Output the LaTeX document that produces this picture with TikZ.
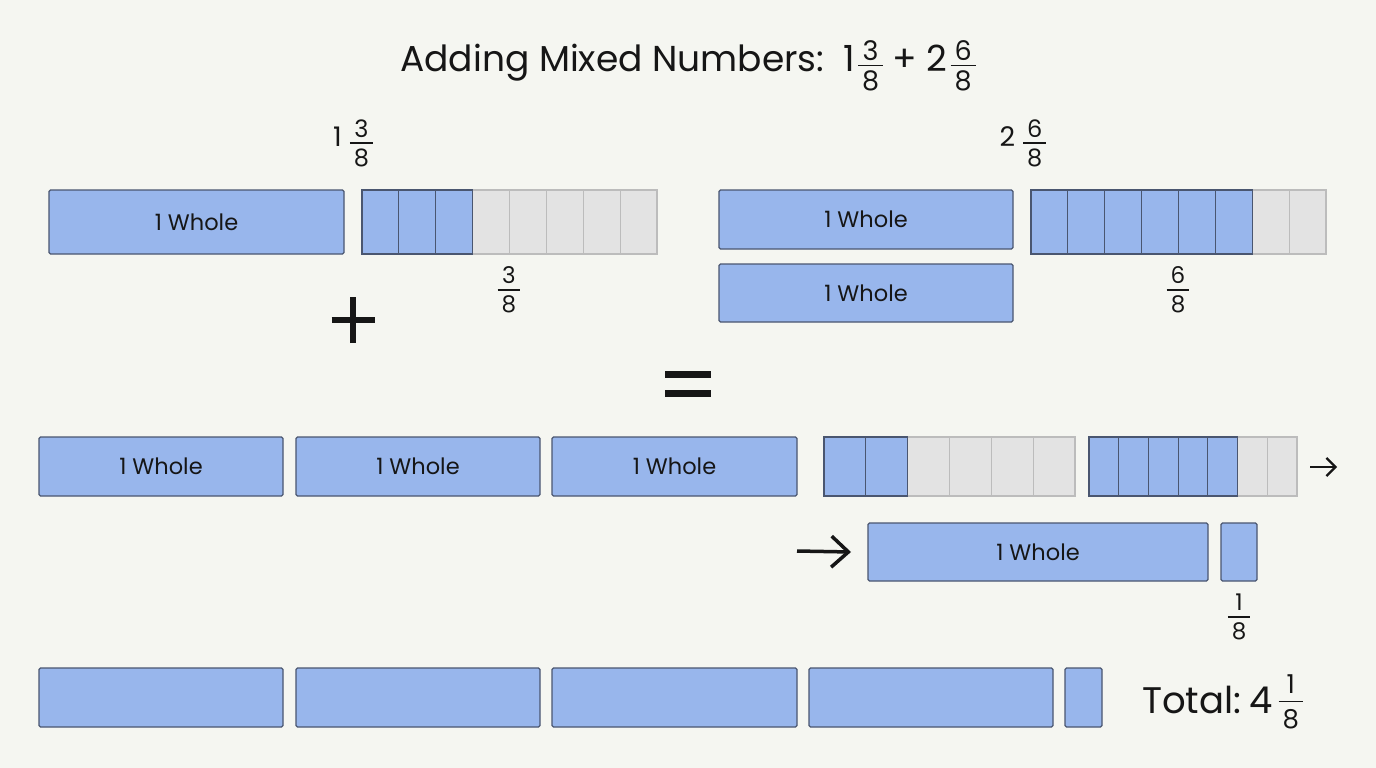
\documentclass[tikz,border=0pt]{standalone}
\usepackage{fontspec}
\setmainfont{Poppins}
\usetikzlibrary{arrows.meta}
\definecolor{bg}{HTML}{F5F6F1}
\definecolor{blu}{HTML}{98B6EC}
\definecolor{bline}{HTML}{4A5670}
\definecolor{gry}{HTML}{E3E3E3}
\definecolor{gline}{HTML}{BCBCBC}
\definecolor{ink}{HTML}{161616}
% num, den, font size, gap, raise
\newcommand\fr[5]{\raisebox{#5}{$\vcenter{\hbox{\fontsize{#3}{#3}\selectfont
  \setbox0\hbox{#1}\setbox2\hbox{#2}%
  \dimen0=\ifdim\wd0>\wd2 \wd0\else\wd2\fi
  \advance\dimen0 by 8pt
  \vbox{\hbox to\dimen0{\hss\box0\hss}\kern#4\hrule height1.7pt\kern#4\hbox to\dimen0{\hss\box2\hss}}}}$}}
\tikzset{
  wholebox/.style={draw=bline, fill=blu, line width=1.3pt, rounded corners=1.5pt,
    inner sep=0pt, outer sep=0pt, anchor=north west, text=ink,
    font=\fontsize{22.5}{22.5}\selectfont},
  bcell/.style={draw=bline, fill=blu, line width=1.2pt, inner sep=0pt, outer sep=0pt, anchor=north west},
  gcell/.style={draw=gline, fill=gry, line width=1.2pt, inner sep=0pt, outer sep=0pt, anchor=north west},
  lbl/.style={text=ink, inner sep=0pt},
  sym/.style={line width=6.5pt, draw=ink},
  arr/.style={draw=ink},
}
% name, x, y, width, height, n, k
\newcommand\fracbar[7]{%
  \pgfmathsetmacro\cw{#4/#6}%
  \pgfmathtruncatemacro\kk{#7+1}%
  \foreach \i in {\kk,...,#6}{%
    \node[gcell, minimum width=\cw pt, minimum height=#5pt] (#1-\i) at ({#2+(\i-1)*\cw}, #3) {};
  }%
  \foreach \i in {1,...,#7}{%
    \node[bcell, minimum width=\cw pt, minimum height=#5pt] (#1-\i) at ({#2+(\i-1)*\cw}, #3) {};
  }%
}
\begin{document}
\begin{tikzpicture}[x=1pt,y=-1pt]
\fill[bg] (0,0) rectangle (1376,768);
\useasboundingbox (0,0) rectangle (1376,768);

% title
\node[lbl, anchor=base, font=\fontsize{36}{36}\selectfont] (title) at (688,71)
  {Adding Mixed Numbers:\ \ 1\kern3pt\fr{3}{8}{27}{4.5pt}{-1pt}\ +\ 2\kern3pt\fr{6}{8}{27}{4.5pt}{-1pt}};

% top-left: 1 3/8
\node[lbl, anchor=base, font=\fontsize{27}{27}\selectfont] (labA) at (353,146) {1\kern8pt\fr{3}{8}{24}{5pt}{-3.5pt}};
\node[wholebox, minimum width=295pt, minimum height=64pt] (a1) at (49,190) {1 Whole};
\fracbar{fa}{362}{190}{295}{64}{8}{3}
\node[lbl] (fla) at (509,290) {\fr{3}{8}{23}{5pt}{0pt}};

% top-right: 2 6/8
\node[lbl, anchor=base, font=\fontsize{27}{27}\selectfont] (labB) at (1023,146) {2\kern8pt\fr{6}{8}{24}{5pt}{-3.5pt}};
\node[wholebox, minimum width=294pt, minimum height=59pt] (b1) at (719,190) {1 Whole};
\node[wholebox, minimum width=294pt, minimum height=58pt] (b2) at (719,264) {1 Whole};
\fracbar{fb}{1031}{190}{295}{64}{8}{6}
\node[lbl] (flb) at (1178,290) {\fr{6}{8}{23}{5pt}{0pt}};

% plus and equals
\coordinate (pc) at (353,320);
\draw[sym] ([yshift=-23pt]pc) -- ([yshift=23pt]pc);
\draw[sym] ([xshift=-21.5pt]pc) -- ([xshift=21.5pt]pc);
\coordinate (eq1) at (665,374.5); \coordinate (eq1e) at (711,374.5);
\coordinate (eq2) at (665,393.5); \coordinate (eq2e) at (711,393.5);
\draw[sym,line width=7pt] (eq1) -- (eq1e);
\draw[sym,line width=7pt] (eq2) -- (eq2e);

% row 3
\node[wholebox, minimum width=244pt, minimum height=59pt] (c1) at (39,437) {1 Whole};
\node[wholebox, minimum width=244pt, minimum height=59pt] (c2) at (296,437) {1 Whole};
\node[wholebox, minimum width=245pt, minimum height=59pt] (c3) at (552,437) {1 Whole};
\fracbar{fc}{824}{437}{251}{59}{6}{2}
\fracbar{fd}{1089}{437}{208}{59}{7}{5}
\coordinate (ar1s) at (1310,467);
\coordinate (ar1e) at (1337,467);
\draw[arr, line width=2.3pt, -{Straight Barb[length=9pt,width=18pt,line width=2.3pt]}] (ar1s) -- (ar1e);

% row 4
\coordinate (ar2s) at (797,551);
\node[wholebox, minimum width=340pt, minimum height=58pt] (d1) at (868,523) {1 Whole};
\node[wholebox, minimum width=36pt, minimum height=58pt] (d2) at (1221,523) {};
\draw[arr, line width=3.5pt, -{Straight Barb[length=17pt,width=31pt,line width=3.5pt]}] (ar2s) -- ([xshift=-17pt]d1.west);
\node[lbl] (fld) at (1239,617) {\fr{1}{8}{23}{5pt}{0pt}};

% row 5
\node[wholebox, minimum width=244pt, minimum height=59pt] (e1) at (39,668) {};
\node[wholebox, minimum width=244pt, minimum height=59pt] (e2) at (296,668) {};
\node[wholebox, minimum width=245pt, minimum height=59pt] (e3) at (552,668) {};
\node[wholebox, minimum width=244pt, minimum height=59pt] (e4) at (809,668) {};
\node[wholebox, minimum width=37pt, minimum height=59pt] (e5) at (1065,668) {};
\node[lbl, anchor=base west, font=\fontsize{37}{37}\selectfont] (total) at (1142,713)
  {Total:\kern8pt4\kern6pt\fr{1}{8}{26}{7pt}{5pt}};
\end{tikzpicture}
\end{document}
